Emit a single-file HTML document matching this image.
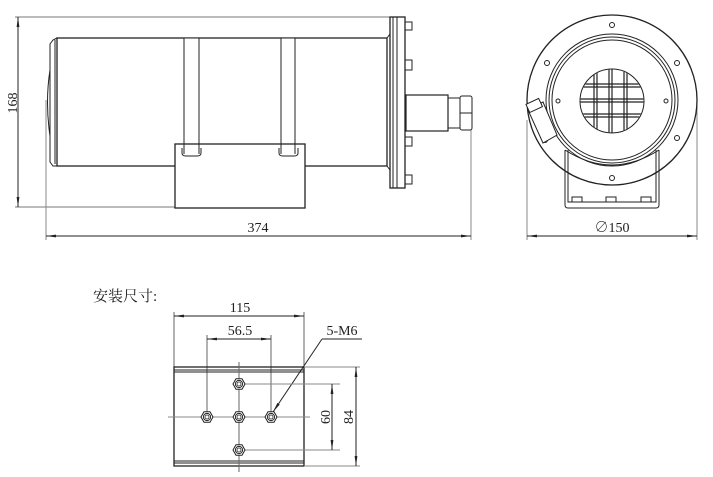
<!DOCTYPE html>
<html><head><meta charset="utf-8"><style>
html,body{margin:0;padding:0;background:#fff;}
svg{display:block;}
text{font-family:"Liberation Serif","Noto Serif CJK SC",serif;fill:#222;}
</style></head><body>
<svg width="713" height="477" viewBox="0 0 713 477" xmlns="http://www.w3.org/2000/svg">
<defs>
<marker id="a" viewBox="0 0 10 4" refX="10" refY="2" markerWidth="10" markerHeight="4" orient="auto-start-reverse" markerUnits="userSpaceOnUse">
<path d="M0,0.6 L10,2 L0,3.4 Z" fill="#222"/></marker>
<clipPath id="gc"><circle cx="612" cy="101" r="31.5"/></clipPath>
<g id="nut"><polygon points="6,0 3,5.2 -3,5.2 -6,0 -3,-5.2 3,-5.2" fill="#fff" stroke="#222" stroke-width="1"/><circle r="3.6" fill="none" stroke="#222" stroke-width="1"/><circle r="2" fill="none" stroke="#222" stroke-width="0.8"/></g>
</defs>
<g stroke="#222" fill="none" stroke-width="1">
<line x1="15" y1="17" x2="400" y2="17" stroke="#777"/>
<line x1="15" y1="207" x2="175" y2="207" stroke="#777"/>
<line x1="18" y1="17" x2="18" y2="207" marker-start="url(#a)" marker-end="url(#a)"/>
<line x1="46" y1="100" x2="46" y2="240" stroke="#888"/>
<line x1="471" y1="130" x2="471" y2="240" stroke="#888"/>
<line x1="46" y1="236" x2="471" y2="236" marker-start="url(#a)" marker-end="url(#a)"/>
<path d="M57,38 L53,40 L50,44 L50,162 L53,166 L57,166"/>
<path d="M50,70 Q45,102 50,136" />
<line x1="55" y1="40" x2="55" y2="164"/>
<rect x="57" y="38" width="330" height="128" stroke-width="1.3"/>
<path d="M387,38 L390,34 M387,166 L390,170"/>
<rect x="184" y="38" width="15" height="117" fill="#fff"/>
<rect x="281" y="38" width="14" height="117" fill="#fff"/>
<rect x="175" y="144" width="130" height="64" fill="#fff" stroke-width="1.3"/>
<path d="M182,148 L182,153 Q182,156 186,156 L197,156 Q201,156 201,153 L201,148"/>
<path d="M279,148 L279,153 Q279,156 283,156 L294,156 Q298,156 298,153 L298,148"/>
<line x1="184" y1="144" x2="184" y2="154"/><line x1="199" y1="144" x2="199" y2="154"/>
<line x1="281" y1="144" x2="281" y2="154"/><line x1="295" y1="144" x2="295" y2="154"/>
<rect x="390" y="17" width="15" height="171" stroke-width="1.3"/>
<line x1="393" y1="17" x2="393" y2="188"/><line x1="397" y1="17" x2="397" y2="188"/>
<rect x="405" y="22" width="7" height="8"/><rect x="405" y="60" width="7" height="10"/>
<rect x="405" y="137" width="7" height="9"/><rect x="405" y="175" width="7" height="9"/>
<rect x="406" y="95" width="42" height="36" fill="#fff" stroke-width="1.2"/>
<rect x="448" y="98" width="12" height="30"/>
<rect x="460" y="96" width="12" height="34" rx="2"/>
<line x1="460" y1="113" x2="472" y2="113"/>
<line x1="527" y1="120" x2="527" y2="240" stroke="#888"/>
<line x1="697" y1="100" x2="697" y2="240" stroke="#888"/>
<line x1="527" y1="236" x2="697" y2="236" marker-start="url(#a)" marker-end="url(#a)"/>
<circle cx="612" cy="100" r="85" stroke-width="1.3"/>
<circle cx="612" cy="100" r="66"/>
<circle cx="612" cy="100" r="63"/>
<circle cx="612" cy="100" r="60"/>
<circle cx="612" cy="25" r="2.5"/><circle cx="547" cy="63" r="2.5"/><circle cx="677" cy="63" r="2.5"/>
<circle cx="677" cy="138" r="2.5"/><circle cx="612" cy="178" r="2.5"/><circle cx="545" cy="140" r="2.5"/>
<circle cx="558" cy="101" r="2"/><circle cx="666" cy="101" r="2"/>
<circle cx="612" cy="101" r="32"/>
<g stroke-width="1.2" clip-path="url(#gc)">
<path d="M594,60 V140 M597,60 V140 M609,60 V140 M612,60 V140 M624,60 V140 M627,60 V140"/>
<path d="M570,84 H650 M570,87 H650 M570,99 H650 M570,102 H650 M570,114 H650 M570,117 H650"/>
</g>
<polygon points="528,110 543,102 557,135 543,143" fill="#fff"/>
<rect x="527" y="101" width="14" height="9" transform="rotate(-25 534 105)" fill="#fff"/>
<path d="M565,150 L565,205 Q565,208 568,208 L656,208 Q659,208 659,205 L659,150"/>
<path d="M568,150 L568,202 L656,202 L656,150"/>
<rect x="572" y="197" width="10" height="5"/><rect x="606" y="197" width="10" height="5"/><rect x="641" y="197" width="10" height="5"/>
<path d="M565,150 Q612,180 659,150"/>
<line x1="174" y1="312" x2="174" y2="367" stroke="#666"/>
<line x1="304" y1="312" x2="304" y2="367" stroke="#666"/>
<line x1="174" y1="316" x2="304" y2="316" marker-start="url(#a)" marker-end="url(#a)"/>
<line x1="207" y1="335" x2="207" y2="416" stroke="#666"/>
<line x1="271" y1="335" x2="271" y2="416" stroke="#666"/>
<line x1="207" y1="339" x2="271" y2="339" marker-start="url(#a)" marker-end="url(#a)"/>
<line x1="322" y1="339" x2="362" y2="339"/>
<line x1="322" y1="339" x2="273" y2="412" marker-end="url(#a)"/>
<rect x="174" y="367" width="130" height="99" stroke-width="1.3"/>
<line x1="174" y1="370" x2="304" y2="370"/><line x1="174" y1="372" x2="304" y2="372"/>
<line x1="174" y1="461" x2="304" y2="461"/><line x1="174" y1="463" x2="304" y2="463"/>
<line x1="168" y1="417" x2="310" y2="417" stroke="#888"/>
<line x1="239" y1="362" x2="239" y2="472" stroke="#666"/>
<line x1="239" y1="384" x2="340" y2="384" stroke="#888"/>
<line x1="239" y1="450" x2="340" y2="450" stroke="#888"/>
<line x1="304" y1="367" x2="360" y2="367" stroke="#888"/>
<line x1="304" y1="466" x2="360" y2="466" stroke="#888"/>
<line x1="332" y1="384" x2="332" y2="450" marker-start="url(#a)" marker-end="url(#a)"/>
<line x1="356" y1="367" x2="356" y2="466" marker-start="url(#a)" marker-end="url(#a)"/>
</g>
<use href="#nut" x="239" y="384"/><use href="#nut" x="207" y="417"/><use href="#nut" x="239" y="417"/>
<use href="#nut" x="271" y="417"/><use href="#nut" x="239" y="450"/>
<g font-size="14">
<text x="14" y="103" text-anchor="middle" transform="rotate(-90 14 103)" dominant-baseline="middle">168</text>
<text x="258" y="232" text-anchor="middle">374</text>
<text x="612" y="232" text-anchor="middle">∅150</text>
<text x="93" y="301" font-size="15">安装尺寸:</text>
<text x="240" y="312" text-anchor="middle">115</text>
<text x="240" y="335" text-anchor="middle">56.5</text>
<text x="342" y="335" text-anchor="middle">5-M6</text>
<text x="327" y="417" text-anchor="middle" dominant-baseline="middle" transform="rotate(-90 327 417)">60</text>
<text x="350" y="417" text-anchor="middle" dominant-baseline="middle" transform="rotate(-90 350 417)">84</text>
</g>
</svg>
</body></html>
